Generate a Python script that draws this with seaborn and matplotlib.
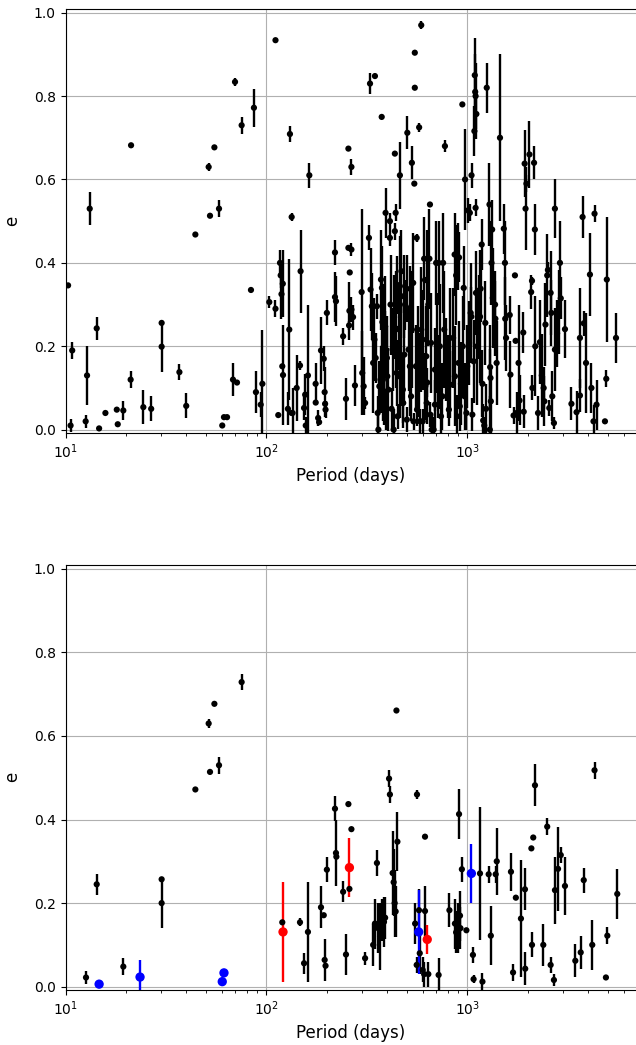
import numpy as np
import pandas as pd
import matplotlib
matplotlib.use('Agg')
import matplotlib.pyplot as plt
import seaborn as sns

# ---- top panel: full sample (period in days, eccentricity, error) ----
period_all = [
    10.3, 10.8, 10.6, 12.8, 12.6, 13.2, 14.3, 14.7, 15.8, 18.0,
    18.2, 19.4, 21.1, 21.2, 24.4, 26.7, 30.1, 30.1, 36.9, 39.9,
    44.3, 51.6, 52.4, 55.1, 58.1, 60.3, 61.5, 63.7, 68.2, 69.8,
    71.4, 75.3, 83.8, 86.7, 88.7, 93.7, 95.5, 103.4, 111, 111,
    114.6, 116.9, 117.8, 118.9, 120, 120.7, 121, 130, 128, 131,
    133.6, 133.6, 135, 141.5, 147, 148, 154, 157, 156, 161,
    163.6, 175.8, 176, 181, 183, 187, 193, 195, 196, 197,
    200, 219.5, 219.5, 222, 241, 249, 256, 265, 260, 265,
    270, 258, 259, 256, 265, 276, 298, 300, 305, 310,
    324, 328, 330, 335, 340, 345, 350, 347, 361, 358,
    355, 370, 375, 372, 376, 378, 385, 390, 395, 398,
    392, 389, 412, 412, 425, 430, 432, 436, 436, 440,
    449, 445, 455, 460, 462, 462, 470, 478, 482, 486,
    490, 500, 503, 510, 518, 520, 525, 530, 538, 545,
    548, 548, 555, 560, 562, 573, 576, 582, 590, 590,
    600, 610, 616, 618, 625, 628, 630, 632, 640, 648,
    652, 655, 665, 680, 690, 700, 705, 712, 720, 740,
    752, 758, 768, 774, 785, 810, 816, 822, 865, 868,
    880, 890, 895, 905, 910, 918, 945, 960, 970, 975,
    1000, 1010, 1020, 1030, 1040, 1048, 1050, 1060, 1075, 1090,
    1095, 1100, 1110, 1085, 1100, 1105, 1150, 1157, 1165, 1180,
    1190, 1200, 1215, 1230, 1250, 1290, 1295, 1300, 1305, 1310,
    1320, 1330, 1340, 1375, 1380, 1455, 1520, 1540, 1545, 1560,
    1627, 1640, 1700, 1727, 1740, 1760, 1800, 1820, 1900, 1910,
    1930, 1950, 1970, 2040, 2080, 2100, 2110, 2150, 2170, 2180,
    2300, 2400, 2420, 2450, 2500, 2520, 2560, 2600, 2620, 2700,
    2730, 2730, 2800, 2850, 2893, 2920, 3064, 3300, 3500, 3638,
    3638, 3750, 3800, 3900, 4080, 4150, 4250, 4300, 4400, 4846,
    4920, 4950, 5500,
    365, 380, 384, 400, 405, 415, 420, 440, 450, 470,
    480, 500, 530, 540, 570, 600, 660, 690, 730, 800,
    850, 930, 950, 990, 1120, 1240, 1400, 2250, 2350, 2650,
]
ecc_all = [
    0.346, 0.19, 0.01, 0.13, 0.02, 0.53, 0.243, 0.003, 0.04, 0.048,
    0.013, 0.046, 0.12, 0.682, 0.054, 0.05, 0.256, 0.199, 0.138, 0.057,
    0.468, 0.63, 0.513, 0.677, 0.53, 0.01, 0.03, 0.03, 0.12, 0.834,
    0.113, 0.73, 0.335, 0.772, 0.09, 0.06, 0.11, 0.306, 0.29, 0.934,
    0.035, 0.40, 0.37, 0.325, 0.152, 0.35, 0.131, 0.24, 0.05, 0.709,
    0.51, 0.04, 0.04, 0.10, 0.154, 0.38, 0.052, 0.01, 0.084, 0.13,
    0.61, 0.11, 0.065, 0.028, 0.018, 0.19, 0.17, 0.09, 0.062, 0.048,
    0.28, 0.425, 0.318, 0.308, 0.224, 0.074, 0.436, 0.432, 0.377, 0.288,
    0.27, 0.25, 0.285, 0.674, 0.63, 0.106, 0.33, 0.136, 0.104, 0.064,
    0.46, 0.83, 0.336, 0.296, 0.16, 0.216, 0.172, 0.848, 0.0, 0.04,
    0.296, 0.12, 0.75, 0.36, 0.34, 0.258, 0.08, 0.248, 0.048, 0.172,
    0.52, 0.204, 0.5, 0.46, 0.192, 0.0, 0.27, 0.476, 0.662, 0.52,
    0.347, 0.136, 0.242, 0.128, 0.344, 0.61, 0.38, 0.096, 0.32, 0.18,
    0.3, 0.338, 0.712, 0.192, 0.152, 0.292, 0.08, 0.64, 0.352, 0.59,
    0.904, 0.82, 0.152, 0.46, 0.048, 0.131, 0.725, 0.02, 0.97, 0.24,
    0.216, 0.41, 0.359, 0.104, 0.176, 0.064, 0.358, 0.113, 0.3, 0.41,
    0.54, 0.036, 0.0, 0.0, 0.144, 0.4, 0.208, 0.128, 0.4, 0.032,
    0.08, 0.4, 0.24, 0.68, 0.168, 0.048, 0.22, 0.108, 0.42, 0.128,
    0.37, 0.032, 0.415, 0.16, 0.413, 0.056, 0.78, 0.34, 0.08, 0.6,
    0.152, 0.526, 0.208, 0.52, 0.28, 0.271, 0.61, 0.036, 0.164, 0.85,
    0.81, 0.80, 0.757, 0.716, 0.532, 0.328, 0.27, 0.271, 0.338, 0.444,
    0.11, 0.022, 0.01, 0.256, 0.82, 0.54, 0.0, 0.15, 0.124, 0.068,
    0.40, 0.48, 0.316, 0.3, 0.266, 0.70, 0.482, 0.40, 0.266, 0.22,
    0.275, 0.132, 0.034, 0.37, 0.213, 0.04, 0.16, 0.07, 0.233, 0.043,
    0.638, 0.53, 0.59, 0.66, 0.33, 0.357, 0.1, 0.64, 0.48, 0.2,
    0.21, 0.1, 0.068, 0.252, 0.37, 0.383, 0.052, 0.328, 0.28, 0.016,
    0.192, 0.53, 0.231, 0.282, 0.4, 0.315, 0.241, 0.062, 0.042, 0.082,
    0.22, 0.51, 0.255, 0.16, 0.372, 0.1, 0.02, 0.518, 0.06, 0.02,
    0.122, 0.36, 0.22,
    0.104, 0.12, 0.2, 0.128, 0.096, 0.3, 0.05, 0.24, 0.032, 0.176,
    0.064, 0.024, 0.24, 0.02, 0.176, 0.02, 0.208, 0.06, 0.2, 0.128,
    0.22, 0.11, 0.2, 0.04, 0.2, 0.05, 0.16, 0.04, 0.13, 0.08,
]
err_all = [
    0, 0.02, 0.015, 0.07, 0.015, 0.04, 0.027, 0, 0, 0,
    0, 0.022, 0.02, 0, 0.04, 0.03, 0, 0.06, 0.02, 0.03,
    0, 0.01, 0, 0, 0.02, 0, 0, 0, 0.04, 0.01,
    0, 0.02, 0, 0.045, 0.05, 0.03, 0.13, 0.015, 0.02, 0,
    0, 0.03, 0.03, 0.06, 0, 0.08, 0.12, 0.17, 0.04, 0.02,
    0.01, 0, 0.06, 0.08, 0.01, 0.10, 0.03, 0.02, 0.05, 0.17,
    0.03, 0.05, 0, 0.02, 0, 0.08, 0.03, 0.06, 0, 0.02,
    0.03, 0.03, 0.06, 0.06, 0.02, 0.05, 0, 0.015, 0, 0.03,
    0.03, 0.01, 0.07, 0, 0.02, 0.05, 0.2, 0.1, 0.07, 0.015,
    0.03, 0.025, 0.1, 0.08, 0.12, 0.1, 0.06, 0, 0.05, 0.04,
    0.03, 0.08, 0, 0.12, 0.1, 0.08, 0.07, 0.12, 0.05, 0.1,
    0.06, 0.08, 0.02, 0.02, 0.1, 0.05, 0.1, 0.02, 0, 0.02,
    0.07, 0.08, 0.1, 0.1, 0.12, 0.08, 0.1, 0.08, 0.1, 0.12,
    0.06, 0.08, 0.04, 0.1, 0.12, 0.1, 0.06, 0.04, 0.12, 0,
    0, 0, 0.1, 0.01, 0.04, 0.1, 0.01, 0.03, 0.01, 0.15,
    0.12, 0.1, 0, 0.08, 0.12, 0.05, 0.12, 0.035, 0.1, 0.12,
    0, 0.03, 0.04, 0.03, 0.1, 0.1, 0.12, 0.1, 0.1, 0.05,
    0.08, 0.12, 0.14, 0.015, 0.1, 0.04, 0.12, 0.08, 0.1, 0.12,
    0.12, 0.05, 0.08, 0.1, 0.06, 0.06, 0, 0.1, 0.08, 0.12,
    0.1, 0.03, 0.1, 0.02, 0.12, 0.07, 0.03, 0.04, 0.1, 0.09,
    0.09, 0.08, 0.06, 0.06, 0.02, 0.1, 0.1, 0.16, 0.08, 0.06,
    0.08, 0.04, 0.02, 0.1, 0.06, 0.1, 0.08, 0.1, 0.07, 0.08,
    0.1, 0.07, 0.12, 0.08, 0.09, 0.2, 0.06, 0.1, 0.1, 0.08,
    0.045, 0.08, 0.02, 0, 0, 0.05, 0.14, 0.06, 0.05, 0.04,
    0.08, 0.1, 0.02, 0.08, 0.04, 0.01, 0.03, 0.04, 0.06, 0.12,
    0.1, 0.05, 0.06, 0.1, 0.1, 0.02, 0.02, 0.1, 0.08, 0.015,
    0.1, 0.07, 0.08, 0.1, 0.1, 0.05, 0.07, 0.04, 0.05, 0.04,
    0.12, 0.05, 0.03, 0.12, 0.1, 0.06, 0.04, 0.02, 0.06, 0,
    0.02, 0.15, 0.06,
    0.06, 0.1, 0.15, 0.12, 0.1, 0.12, 0.05, 0.14, 0.03, 0.12,
    0.06, 0.03, 0.14, 0.02, 0.12, 0.03, 0.12, 0.06, 0.15, 0.1,
    0.12, 0.1, 0.12, 0.04, 0.14, 0.06, 0.1, 0.04, 0.1, 0.06,
]

# ---- bottom panel: subsample ----
period_sub = [
    12.65, 14.3, 19.4, 30.1, 30.1, 44.3, 51.6, 52.4, 55.1, 58.1,
    75.3, 120, 147, 154, 161, 187, 193, 195, 197, 200,
    219.5, 222, 223, 241, 249, 256, 259, 265, 310, 340,
    347, 355, 360, 368, 375, 385, 390, 412, 408, 425,
    430, 435, 440, 444, 449, 550, 562, 560, 575, 580,
    600, 610, 616, 616, 640, 720, 815, 868, 880, 900,
    910, 920, 925, 940, 990, 1067, 1075, 1157, 1190, 1278,
    1385, 1402, 1310, 1650, 1745, 1937, 1850, 1690, 1943, 2085,
    2130, 2100, 2173, 2390, 2500, 2600, 2700, 2732, 2830, 2920,
    3064, 3450, 3670, 3800, 4190, 4300, 4900, 4980, 5580,
]
ecc_sub = [
    0.022, 0.245, 0.048, 0.257, 0.2, 0.472, 0.63, 0.514, 0.677, 0.53,
    0.729, 0.154, 0.154, 0.056, 0.131, 0.19, 0.171, 0.064, 0.05, 0.28,
    0.426, 0.32, 0.311, 0.227, 0.077, 0.437, 0.234, 0.377, 0.068, 0.1,
    0.151, 0.296, 0.14, 0.12, 0.16, 0.155, 0.165, 0.46, 0.498, 0.272,
    0.25, 0.2, 0.18, 0.661, 0.347, 0.151, 0.46, 0.052, 0.183, 0.08,
    0.04, 0.03, 0.359, 0.181, 0.03, 0.028, 0.183, 0.151, 0.13, 0.14,
    0.413, 0.17, 0.14, 0.281, 0.135, 0.076, 0.018, 0.271, 0.012, 0.269,
    0.269, 0.3, 0.122, 0.275, 0.213, 0.233, 0.163, 0.034, 0.043, 0.331,
    0.357, 0.1, 0.482, 0.1, 0.383, 0.052, 0.016, 0.231, 0.282, 0.315,
    0.241, 0.062, 0.082, 0.255, 0.1, 0.518, 0.022, 0.122, 0.222,
]
err_sub = [
    0.015, 0.025, 0.02, 0, 0.06, 0, 0.01, 0, 0, 0.02,
    0.02, 0, 0.01, 0.025, 0.12, 0.05, 0, 0.05, 0, 0.03,
    0.03, 0.08, 0, 0.025, 0.05, 0, 0, 0, 0.015, 0.05,
    0.06, 0.03, 0.06, 0.08, 0.05, 0.06, 0.05, 0.02, 0.02, 0.1,
    0.08, 0.08, 0.06, 0, 0.07, 0.05, 0.01, 0.02, 0.05, 0.05,
    0.03, 0.03, 0, 0.06, 0.03, 0.04, 0.04, 0.06, 0.05, 0.06,
    0.06, 0.06, 0.05, 0.03, 0, 0.02, 0.01, 0.16, 0.02, 0.02,
    0.02, 0.08, 0.07, 0.045, 0, 0.05, 0.14, 0.02, 0.04, 0,
    0, 0.03, 0.05, 0.05, 0.02, 0.02, 0.015, 0.08, 0.1, 0.02,
    0.07, 0.04, 0.04, 0.03, 0.06, 0.02, 0, 0.02, 0.06,
]

# highlighted objects in the bottom panel
period_blue = [14.7, 23.5, 60.3, 61.5, 573, 1048]
ecc_blue = [0.006, 0.023, 0.012, 0.033, 0.131, 0.271]
err_blue = [0, 0.04, 0, 0, 0.1, 0.07]

period_red = [121, 259, 632]
ecc_red = [0.131, 0.285, 0.113]
err_red = [0.12, 0.07, 0.035]

W, H = 636, 1045
fig = plt.figure(figsize=(W / 100, H / 100), dpi=100)
left = 65.5 / W
width = 1.0 - left
ax1 = fig.add_axes([left, 1 - 433 / H, width, (433 - 8.5) / H])
ax2 = fig.add_axes([left, 1 - 990 / H, width, (990 - 564.7) / H])


def draw(ax, p, e, err, color, size, lw):
    df = pd.DataFrame({'P': p, 'e': e, 'err': err})
    ax.errorbar(df['P'], df['e'], yerr=df['err'], fmt='none',
                ecolor=color, elinewidth=lw, capsize=0, zorder=2)
    sns.scatterplot(data=df, x='P', y='e', ax=ax, color=color, s=size,
                    edgecolor='none', linewidth=0, zorder=3, legend=False)


draw(ax1, period_all, ecc_all, err_all, 'k', 20, 1.7)
draw(ax2, period_sub, ecc_sub, err_sub, 'k', 20, 1.7)
draw(ax2, period_blue, ecc_blue, err_blue, 'b', 45, 1.7)
draw(ax2, period_red, ecc_red, err_red, 'r', 45, 1.7)

for ax in (ax1, ax2):
    ax.set_xscale('log')
    ax.set_xlim(10, 6917)
    ax.set_ylim(-0.008, 1.01)
    ax.set_yticks([0.0, 0.2, 0.4, 0.6, 0.8, 1.0])
    ax.grid(True, which='major', color='#b0b0b0', linewidth=0.8)
    ax.set_axisbelow(True)
    ax.spines['right'].set_visible(False)
    ax.set_xlabel('Period (days)', fontsize=12)
    ax.set_ylabel('e', fontsize=12, labelpad=9)
    ax.tick_params(labelsize=10)

fig.savefig('out.png', dpi=100)
